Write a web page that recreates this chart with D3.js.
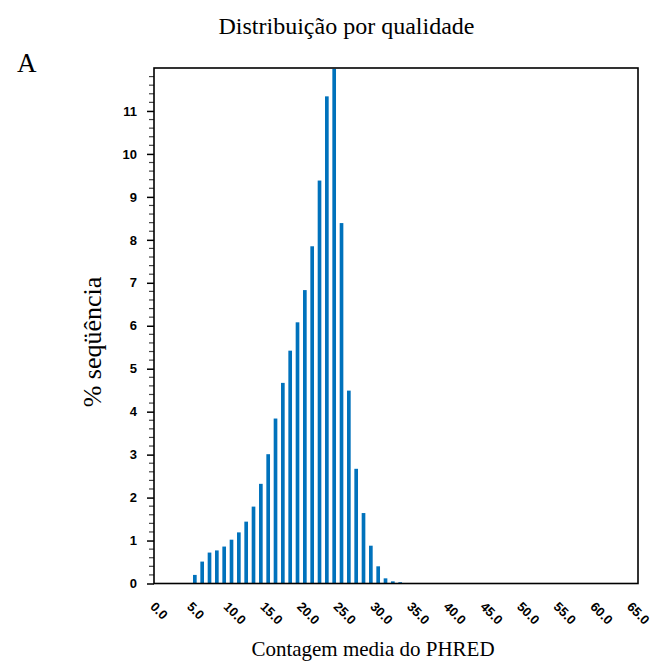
<!DOCTYPE html>
<html>
<head>
<meta charset="utf-8">
<script src="https://cdn.jsdelivr.net/npm/d3@7"></script>
<style>
  html, body { margin: 0; padding: 0; background: #fff; }
  svg { display: block; }
</style>
</head>
<body>
<div id="chart"></div>
<script>
// ---- data ----
const bins = [5,6,7,8,9,10,11,12,13,14,15,16,17,18,19,20,21,22,23,24,25,26,27,28,29,30,31,32,33];
const percent = [0.20,0.51,0.72,0.77,0.86,1.02,1.19,1.44,1.79,2.32,3.01,3.84,4.67,5.42,6.08,6.83,7.85,9.38,11.34,11.98,8.39,4.49,2.67,1.64,0.88,0.40,0.12,0.05,0.03];
const xTicks = [0,5,10,15,20,25,30,35,40,45,50,55,60,65];
const yTicks = [0,1,2,3,4,5,6,7,8,9,10,11];
const titleText = "Distribuição por qualidade";
const xTitle = "Contagem media do PHRED";
const yTitle = "% seqüência";
const panelLabel = "A";

const W = 652, H = 661;
const mLeft = 154, mRight = 638, mTop = 68, mBottom = 583.5;

const svg = d3.select("#chart").append("svg")
  .attr("width", W).attr("height", H)
  .attr("viewBox", `0 0 ${W} ${H}`);
svg.append("rect").attr("width", W).attr("height", H).attr("fill", "#fff");

const x = d3.scaleLinear().domain([0, 66]).range([mLeft, mRight]);
const y = d3.scaleLinear().domain([0, 12]).range([mBottom, mTop]);

// bars
const barOffset = 0.32, barW = 0.5;
svg.append("g").selectAll("rect")
  .data(bins.map((b, i) => ({b, v: percent[i]})))
  .join("rect")
  .attr("x", d => x(d.b + barOffset))
  .attr("width", x(barW) - x(0))
  .attr("y", d => y(d.v))
  .attr("height", d => y(0) - y(d.v))
  .attr("fill", "#0072bc");

// minor y ticks
const minor = d3.range(0, 12.001, 0.2).filter(v => Math.abs(v - Math.round(v)) > 1e-6);
svg.append("g").selectAll("line").data(minor).join("line")
  .attr("x1", mLeft - 5).attr("x2", mLeft)
  .attr("y1", d => y(d)).attr("y2", d => y(d))
  .attr("stroke", "#444").attr("stroke-width", 1.2);

// y axis
const yAxis = d3.axisLeft(y).tickValues(yTicks).tickFormat(d3.format("d"))
  .tickSize(7).tickPadding(10).tickSizeOuter(0);
const gy = svg.append("g").attr("transform", `translate(${mLeft},0)`).call(yAxis);
gy.select(".domain").remove();
gy.selectAll(".tick line").attr("stroke", "#000").attr("stroke-width", 1.5);
gy.selectAll(".tick text")
  .attr("font-family", "'Liberation Sans', Arial, sans-serif")
  .attr("font-weight", "bold").attr("font-size", 13).attr("fill", "#000");

// x axis labels (no tick marks)
const xAxis = d3.axisBottom(x).tickValues(xTicks).tickFormat(d3.format(".1f"))
  .tickSize(0).tickSizeOuter(0);
const gx = svg.append("g").attr("transform", `translate(0,${mBottom})`).call(xAxis);
gx.select(".domain").remove();
gx.selectAll(".tick text")
  .attr("font-family", "'Liberation Sans', Arial, sans-serif")
  .attr("font-weight", "bold").attr("font-size", 13).attr("fill", "#000")
  .attr("text-anchor", "start")
  .attr("y", 0).attr("dy", 0)
  .attr("transform", "translate(-5,24) rotate(45)");

// frame
svg.append("rect")
  .attr("x", mLeft).attr("y", mTop)
  .attr("width", mRight - mLeft).attr("height", mBottom - mTop)
  .attr("fill", "none").attr("stroke", "#000").attr("stroke-width", 1.6);

// titles
const serif = "'Liberation Serif', 'Times New Roman', serif";
svg.append("text").attr("x", 346.5).attr("y", 34)
  .attr("text-anchor", "middle").attr("font-family", serif).attr("font-size", 24)
  .text(titleText);
svg.append("text").attr("x", 17).attr("y", 72)
  .attr("font-family", serif).attr("font-size", 27)
  .text(panelLabel);
svg.append("text").attr("x", 373).attr("y", 656)
  .attr("text-anchor", "middle").attr("font-family", serif).attr("font-size", 21)
  .text(xTitle);
svg.append("text")
  .attr("transform", `translate(101,342) rotate(-90)`)
  .attr("text-anchor", "middle").attr("font-family", serif).attr("font-size", 26)
  .text(yTitle);
</script>
</body>
</html>
